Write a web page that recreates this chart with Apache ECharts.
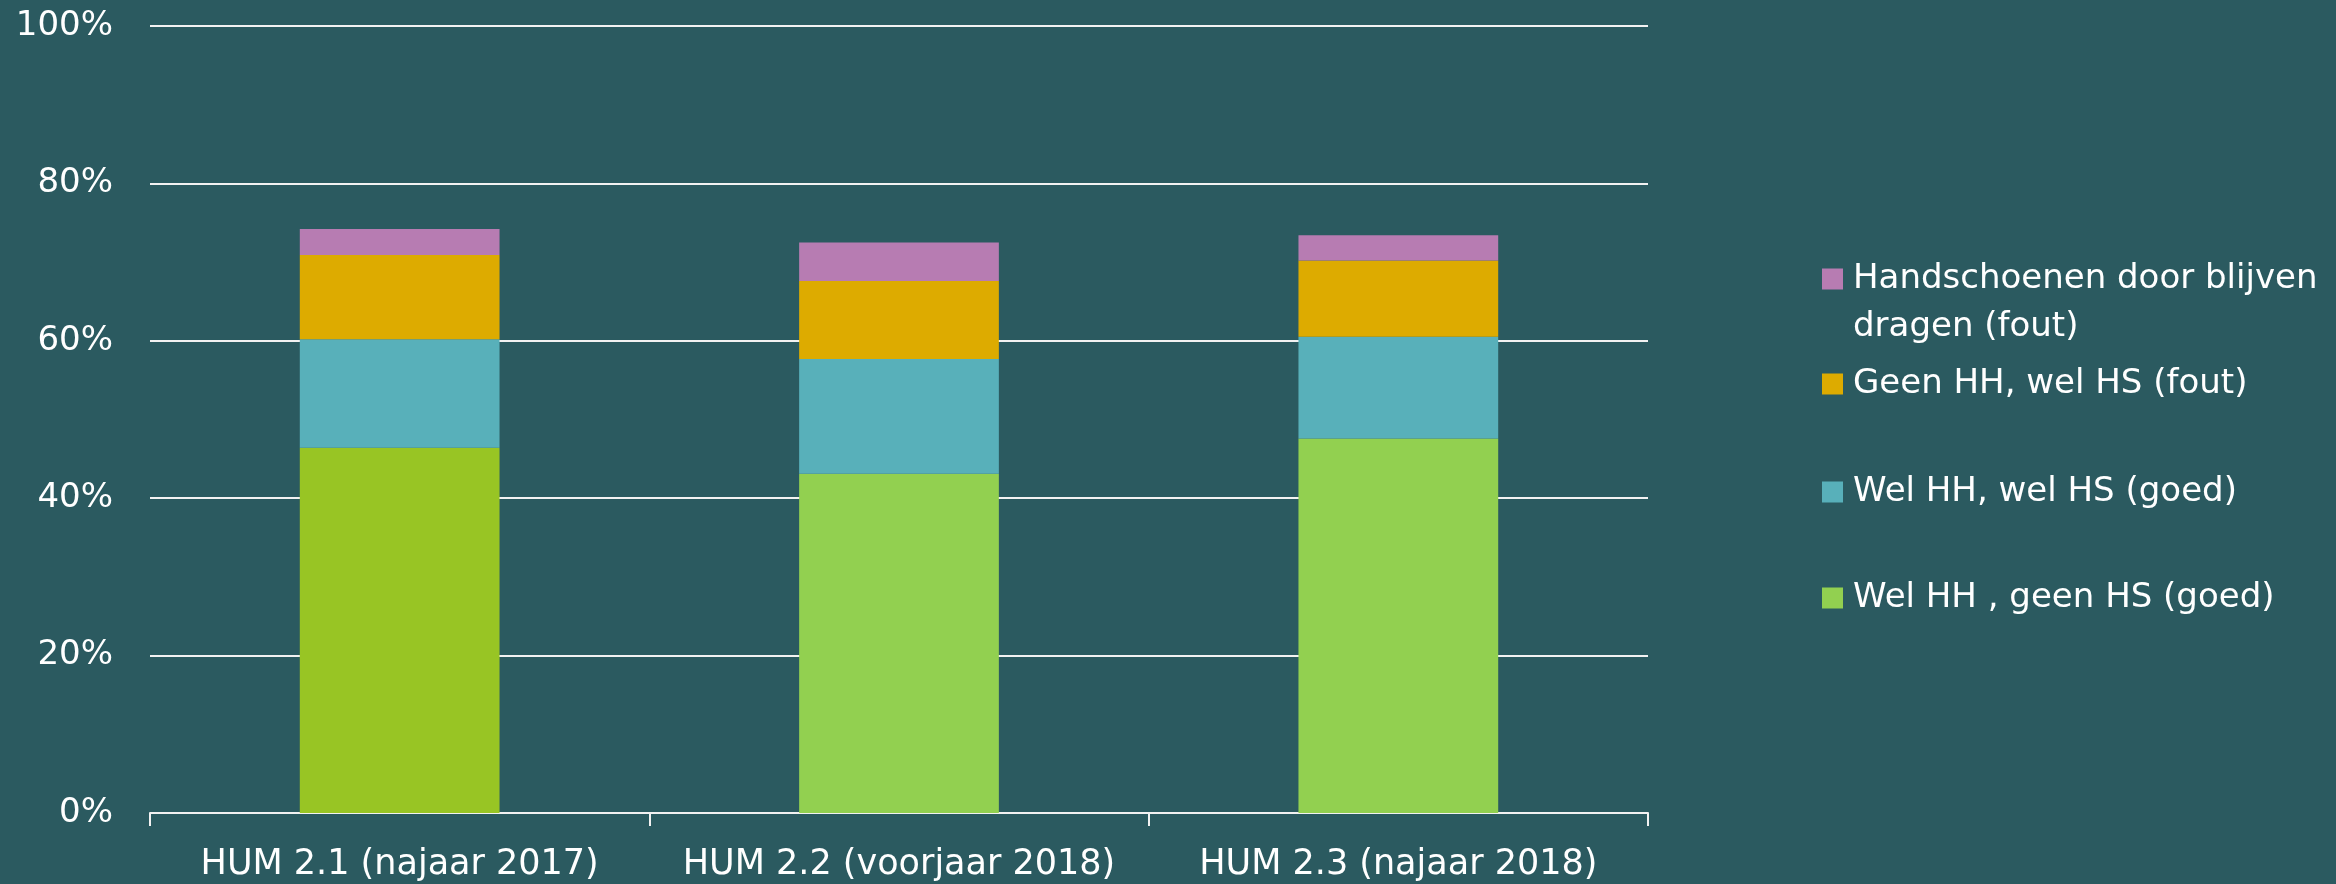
<!DOCTYPE html>
<html>
<head>
<meta charset="utf-8">
<script src="https://cdn.jsdelivr.net/npm/echarts@6/dist/echarts.min.js"></script>
<style>
  html, body { margin: 0; padding: 0; background: #2b5a60; }
  #chart { width: 2336px; height: 884px; }
</style>
</head>
<body>
<div id="chart"></div>
<script>
// categories and series values (percentages)
const categories = ['HUM 2.1 (najaar 2017)', 'HUM 2.2 (voorjaar 2018)', 'HUM 2.3 (najaar 2018)'];
const welHHGeenHS = [46.4, 43.1, 47.6];
const welHHWelHS = [13.8, 14.6, 12.9];
const geenHHWelHS = [10.7, 9.9, 9.7];
const handschoenen = [3.3, 4.9, 3.2];
const seriesNames = [
    'Wel HH , geen HS (goed)',
    'Wel HH, wel HS (goed)',
    'Geen HH, wel HS (fout)',
    'Handschoenen door blijven dragen (fout)'
];
const yTicks = [0, 20, 40, 60, 80, 100];

const font = 'DejaVu Sans';
const chart = echarts.init(document.getElementById('chart'));

// first bar of the bottom series has a more yellowish green
const greenData = welHHGeenHS.map((v, i) => i === 0 ? { value: v, itemStyle: { color: '#98c524' } } : v);

function bar(name, data, color) {
    return {
        name: name,
        type: 'bar',
        stack: 'total',
        barWidth: '40%',
        data: data,
        itemStyle: { color: color }
    };
}

// one legend per item so each row can sit where it sits in the original
// (long name wraps; a leading empty line keeps the first line level with the icon)
function legendRow(name, top) {
    return {
        data: [name],
        left: 1822,
        top: top,
        padding: 0,
        icon: 'rect',
        itemWidth: 21,
        itemHeight: 21,
        selectedMode: false,
        formatter: n => n === seriesNames[3] ? '\nHandschoenen door blijven\ndragen (fout)' : n,
        textStyle: {
            color: '#ffffff',
            fontFamily: font,
            fontSize: 34,
            lineHeight: 48,
            padding: [0, 0, 0, 5]
        }
    };
}

const option = {
    backgroundColor: '#2b5a60',
    animation: false,
    grid: { left: 150, right: 688, top: 26, bottom: 71 },
    legend: [
        legendRow(seriesNames[3], 207),
        legendRow(seriesNames[2], 360),
        legendRow(seriesNames[1], 468),
        legendRow(seriesNames[0], 574)
    ],
    xAxis: {
        type: 'category',
        data: categories,
        axisLine: { lineStyle: { color: '#f2f2f2', width: 2 } },
        axisTick: { show: true, interval: 0, length: 13, lineStyle: { color: '#f2f2f2', width: 2 } },
        axisLabel: { interval: 0, color: '#ffffff', fontFamily: font, fontSize: 35, margin: 34 }
    },
    yAxis: {
        type: 'value',
        min: yTicks[0],
        max: yTicks[yTicks.length - 1],
        interval: 20,
        axisLine: { show: false },
        axisTick: { show: false },
        splitLine: { lineStyle: { color: '#f2f2f2', width: 2 } },
        axisLabel: { color: '#ffffff', fontFamily: font, fontSize: 34, margin: 37, formatter: '{value}%' }
    },
    series: [
        bar(seriesNames[0], greenData, '#92d050'),
        bar(seriesNames[1], welHHWelHS, '#58b0ba'),
        bar(seriesNames[2], geenHHWelHS, '#ddab00'),
        bar(seriesNames[3], handschoenen, '#b77cb2')
    ]
};

chart.setOption(option);
window.addEventListener('resize', () => chart.resize());
</script>
</body>
</html>
